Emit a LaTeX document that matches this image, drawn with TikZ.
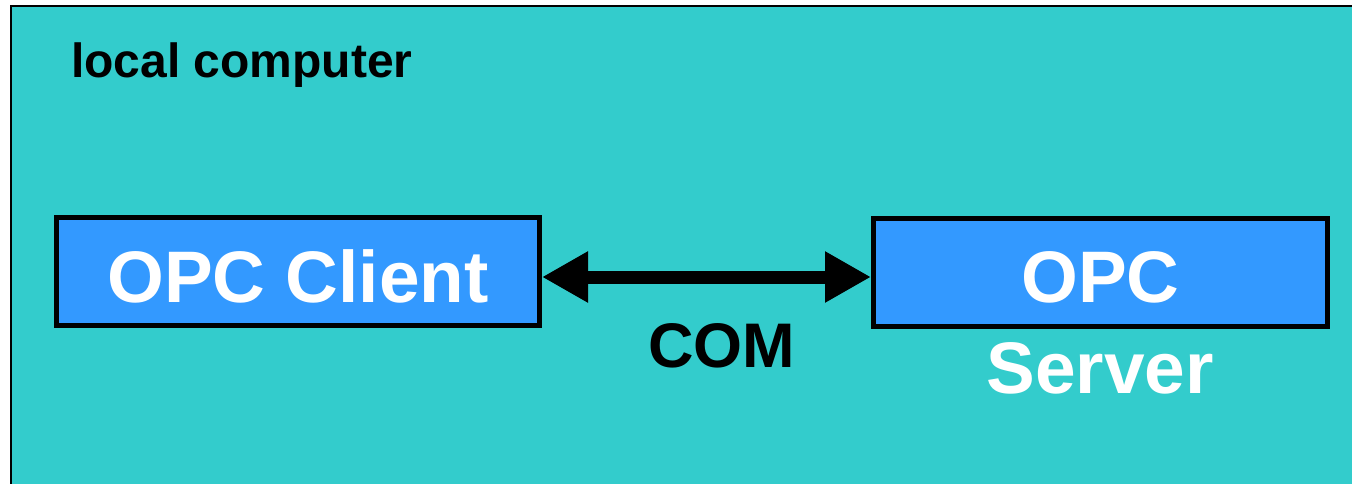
\documentclass[tikz,border=0pt]{standalone}
\usepackage{fontspec}
\setmainfont{Liberation Sans}
\usetikzlibrary{arrows.meta}
\definecolor{bgteal}{HTML}{33CCCC}
\definecolor{boxblue}{HTML}{3399FF}
\tikzset{
  opcbox/.style={draw=black, line width=5pt, fill=boxblue, text=white,
    minimum width=#1, minimum height=108pt, inner sep=0pt,
    font=\fontsize{73}{80}\selectfont\bfseries, text height=61pt, text depth=0pt},
  bigtext/.style={font=\fontsize{#1}{#1}\selectfont\bfseries, inner sep=0pt},
  comarrow/.style={line width=13pt, {Triangle[length=46pt,width=48pt]}-{Triangle[length=46pt,width=48pt]}}
}
\begin{document}
\begin{tikzpicture}[x=1pt,y=-1pt]
\useasboundingbox (0,0) rectangle (1352,484);
\clip (0,0) rectangle (1352,484);
\fill[white] (0,0) rectangle (1352,484);
\draw[line width=2pt, fill=bgteal] (11,6) rectangle (1370,500);
\node[bigtext=48, anchor=base west] (title) at (71,78) {local computer};
\node[opcbox=483pt] (client) at (298,271.5) {OPC Client};
\node[opcbox=454pt] (server) at (1100.5,272) {OPC};
\node[bigtext=73, text=white, anchor=base] (serverlbl) at (1100,393) {Server};
\draw[comarrow] ([yshift=-5.5pt]client.east) -- ([yshift=-5pt]server.west);
\node[bigtext=63, anchor=base] (com) at (721.5,367) {COM};
\end{tikzpicture}
\end{document}
